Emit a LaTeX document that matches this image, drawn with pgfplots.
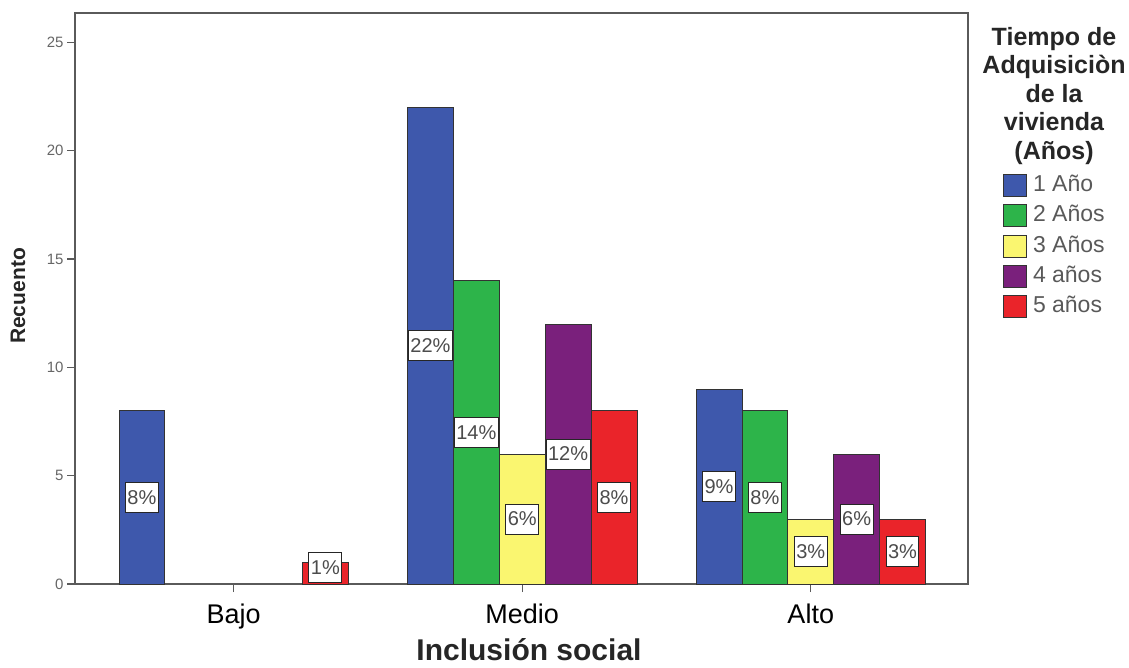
\documentclass[border=0pt]{standalone}
\usepackage{pgfplots}
\pgfplotsset{compat=1.18}
\usepackage{pgfplotstable}
\usepackage{fontspec}
\setmainfont{Liberation Sans}

\definecolor{cA}{RGB}{62,88,172}
\definecolor{cB}{RGB}{45,180,74}
\definecolor{cC}{RGB}{250,246,112}
\definecolor{cD}{RGB}{122,32,124}
\definecolor{cE}{RGB}{234,36,42}
\definecolor{axgray}{RGB}{90,90,90}

% x: 0=Bajo, 1=Medio, 2=Alto ; y = count ; ly = label position ; lab = percent
\pgfplotstableread{
x y ly lab
0 8 4 8
1 22 11 22
2 9 4.5 9
}\sA
\pgfplotstableread{
x y ly lab
1 14 7 14
2 8 4 8
}\sB
\pgfplotstableread{
x y ly lab
1 6 3 6
2 3 1.5 3
}\sC
\pgfplotstableread{
x y ly lab
1 12 6 12
2 6 3 6
}\sD
\pgfplotstableread{
x y ly lab
0 1 0.74 1
1 8 4 8
2 3 1.5 3
}\sE

\pgfplotsset{
  mybar/.style={ybar, bar width=0.159, draw=black!80, line width=0.8pt,
    legend image code/.code={\draw[##1] (0pt,-11pt) rectangle (23pt,11pt);}},
  mylab/.style={forget plot, draw=none, mark=none,
    point meta=explicit symbolic,
    nodes near coords={\pgfplotspointmeta\%},
    every node near coord/.style={anchor=center, fill=white, draw=black!85,
      line width=1pt, font=\fontsize{20}{20}\selectfont, text=black!70,
      inner xsep=2pt, inner ysep=0pt, minimum height=30pt}},
}

\begin{document}
\begin{tikzpicture}[x=1pt,y=1pt]
\path[use as bounding box] (0,0) rectangle (1129,667);
\begin{axis}[
  at={(75pt,83pt)}, anchor=south west,
  width=893pt, height=571pt, scale only axis,
  xmin=-0.55, xmax=2.545, ymin=0, ymax=26.36,
  axis line style={draw=axgray, line width=1.6pt},
  xtick={0,1,2}, xticklabels={Bajo,Medio,Alto},
  ytick={0,5,10,15,20,25},
  tick align=outside, tick pos=left,
  major tick length=8pt,
  tick style={draw=axgray, line width=1.2pt},
  x tick label style={font=\fontsize{27}{27}\selectfont, yshift=-8pt},
  y tick label style={font=\fontsize{15}{15}\selectfont, text=black!60},
  /pgf/number format/assume math mode=true,
  clip=false,
  legend style={at={(axis description cs:1,1)}, anchor=north west,
    xshift=35pt, yshift=-161pt, draw=none, fill=none, inner sep=0pt,
    font=\fontsize{23}{23}\selectfont, text=black!65,
    nodes={inner sep=0pt, text height=17pt, text depth=5pt},
    row sep=7.5pt, column sep=6pt},
  legend cell align=left,
]
\addplot[mybar, bar shift=-0.318, fill=cA] table[x=x,y=y]{\sA};
\addplot[mybar, bar shift=-0.159, fill=cB] table[x=x,y=y]{\sB};
\addplot[mybar, bar shift=0,      fill=cC] table[x=x,y=y]{\sC};
\addplot[mybar, bar shift=0.159,  fill=cD] table[x=x,y=y]{\sD};
\addplot[mybar, bar shift=0.318,  fill=cE] table[x=x,y=y]{\sE};
\legend{1 Año,2 Años,3 Años,4 años,5 años}

\addplot[mylab] table[x expr=\thisrow{x}-0.318, y=ly, meta=lab]{\sA};
\addplot[mylab] table[x expr=\thisrow{x}-0.159, y=ly, meta=lab]{\sB};
\addplot[mylab] table[x expr=\thisrow{x},       y=ly, meta=lab]{\sC};
\addplot[mylab] table[x expr=\thisrow{x}+0.159, y=ly, meta=lab]{\sD};
\addplot[mylab] table[x expr=\thisrow{x}+0.318, y=ly, meta=lab]{\sE};
\end{axis}
\node[rotate=90, font=\bfseries\fontsize{21}{21}\selectfont, text=black!85] at (18,371) {Recuento};
\node[anchor=base, font=\bfseries\fontsize{30}{30}\selectfont, text=black!85] at (529,7) {Inclusión social};
\node[anchor=north, align=center, inner sep=0pt, font=\bfseries\fontsize{25}{28.5}\selectfont, text=black!85] at (1054,640) {Tiempo de\\Adquisiciòn\\de la\\vivienda\\(Años)};
\end{tikzpicture}
\end{document}
